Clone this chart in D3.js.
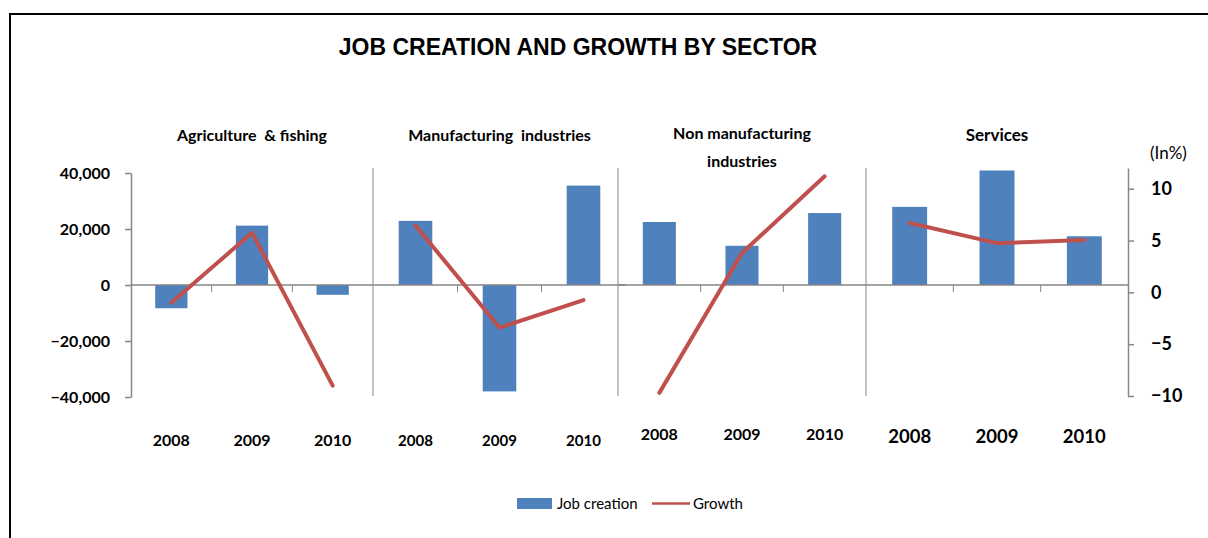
<!DOCTYPE html>
<html>
<head>
<meta charset="utf-8">
<script src="https://cdn.jsdelivr.net/npm/d3@7"></script>
<style>
  body { margin: 0; background: #fff; }
  svg { display: block; }
</style>
</head>
<body>
<div id="chart"></div>
<script>
// data
const sectorTitles = [
    ["Agriculture  & fishing"],
    ["Manufacturing  industries"],
    ["Non manufacturing", "industries"],
    ["Services"],
];
const years = ["2008", "2009", "2010"];
const jobCreation = [
    [-8300, 21200, -3500],
    [22900, -38000, 35500],
    [22500, 14000, 25700],
    [27900, 40900, 17400],
];
const growth = [
    [-1.0, 5.75, -9.0],
    [6.45, -3.4, -0.75],
    [-9.7, 3.8, 11.2],
    [6.7, 4.75, 5.05],
];
const leftTicks = [-40000, -20000, 0, 20000, 40000];
const rightTicks = [-10, -5, 0, 5, 10];
const legendLabels = ["Job creation", "Growth"];

const width = 1208;
const height = 538;
const blue = "#4F81BD";
const red = "#C0504D";
const grey = "#868686";

// each sector panel is its own little chart pasted side by side
const panelRanges = [[131, 373], [373.5, 625.5], [618, 866], [866, 1128]];
const separators = [373, 618, 866];
const yearLabelY = [446, 446, 440, 443];
const yearFontSize = [16, 15, 16, 18.5];

const svg = d3.select("#chart").append("svg")
    .attr("width", width)
    .attr("height", height);

// frame (right and bottom fall outside the picture)
svg.append("path")
    .attr("d", `M10,${height + 5} L10,14 L${width + 5},14`)
    .attr("fill", "none")
    .attr("stroke", "#000")
    .attr("stroke-width", 2);

svg.append("text")
    .attr("x", 578)
    .attr("y", 55)
    .attr("text-anchor", "middle")
    .style("font", "bold 23px 'Liberation Sans', Arial, sans-serif")
    .text("JOB CREATION AND GROWTH BY SECTOR");

const yLeft = d3.scaleLinear().domain([-40000, 40000]).range([397, 173]);
const yRight = d3.scaleLinear().domain([-10, 12]).range([396, 168]);

const leftAxis = svg.append("g")
    .attr("transform", "translate(131,0)")
    .call(d3.axisLeft(yLeft).tickValues(leftTicks).tickSize(6).tickSizeOuter(0)
        .tickPadding(15).tickFormat(d3.format(",")));

const rightAxis = svg.append("g")
    .attr("transform", "translate(1128,0)")
    .call(d3.axisRight(yRight).tickValues(rightTicks).tickSize(6).tickSizeOuter(0)
        .tickPadding(17));

[leftAxis, rightAxis].forEach(g => {
    g.selectAll("path, line").attr("stroke", grey).attr("stroke-width", 1.5);
    g.selectAll("text").attr("fill", "#000").style("font", "bold 16px Lato, sans-serif");
});
rightAxis.selectAll("text").style("font-size", "18px");

svg.append("text")
    .attr("x", 1150)
    .attr("y", 159)
    .style("font", "17px Lato, sans-serif")
    .text("(In%)");

// panel separators
svg.selectAll("line.sep")
    .data(separators)
    .join("line")
    .attr("class", "sep")
    .attr("x1", d => d).attr("x2", d => d)
    .attr("y1", 168).attr("y2", 396)
    .attr("stroke", grey)
    .attr("stroke-width", 1);

const line = d3.line();

sectorTitles.forEach((title, i) => {
    const [x0, x1] = panelRanges[i];
    const x = d3.scaleBand().domain(years).range([x0, x1]).paddingInner(0.6).paddingOuter(0.3);
    const g = svg.append("g");

    // panel title
    const t = g.append("text")
        .attr("x", (x0 + x1) / 2)
        .attr("y", title.length > 1 ? 139 : 141)
        .attr("text-anchor", "middle")
        .style("white-space", "pre")
        .style("font", `bold ${i === 3 ? 17 : 16}px Lato, sans-serif`);
    title.forEach((s, k) => t.append("tspan").attr("x", (x0 + x1) / 2).attr("dy", k ? 28 : 0).text(s));

    // bars
    g.selectAll("rect")
        .data(jobCreation[i])
        .join("rect")
        .attr("x", (d, k) => x(years[k]))
        .attr("width", x.bandwidth())
        .attr("y", d => yLeft(Math.max(0, d)))
        .attr("height", d => Math.abs(yLeft(d) - yLeft(0)))
        .attr("fill", blue);

    // zero line and category ticks
    g.append("line")
        .attr("x1", x0).attr("x2", x1)
        .attr("y1", yLeft(0)).attr("y2", yLeft(0))
        .attr("stroke", grey).attr("stroke-width", 1.5);
    g.selectAll("line.tick")
        .data([1, 2])
        .join("line")
        .attr("class", "tick")
        .attr("x1", k => x0 + k * x.step()).attr("x2", k => x0 + k * x.step())
        .attr("y1", yLeft(0)).attr("y2", yLeft(0) + 7)
        .attr("stroke", grey).attr("stroke-width", 1);

    // growth line
    g.append("path")
        .attr("d", line(growth[i].map((v, k) => [x(years[k]) + x.bandwidth() / 2, yRight(v)])))
        .attr("fill", "none")
        .attr("stroke", red)
        .attr("stroke-width", 4)
        .attr("stroke-linecap", "round")
        .attr("stroke-linejoin", "round");

    // years
    g.selectAll("text.year")
        .data(years)
        .join("text")
        .attr("class", "year")
        .attr("x", d => x(d) + x.bandwidth() / 2)
        .attr("y", yearLabelY[i])
        .attr("text-anchor", "middle")
        .style("font", `bold ${yearFontSize[i]}px Lato, sans-serif`)
        .text(d => d);
});

// legend
const legend = svg.append("g");
legend.append("rect")
    .attr("x", 517).attr("y", 498).attr("width", 35).attr("height", 11)
    .attr("fill", blue);
legend.append("text")
    .attr("x", 557).attr("y", 509)
    .style("font", "15px Lato, sans-serif")
    .text(legendLabels[0]);
legend.append("line")
    .attr("x1", 652).attr("x2", 690).attr("y1", 503.5).attr("y2", 503.5)
    .attr("stroke", red).attr("stroke-width", 2.5);
legend.append("text")
    .attr("x", 693).attr("y", 509)
    .style("font", "15px Lato, sans-serif")
    .text(legendLabels[1]);
</script>
</body>
</html>
